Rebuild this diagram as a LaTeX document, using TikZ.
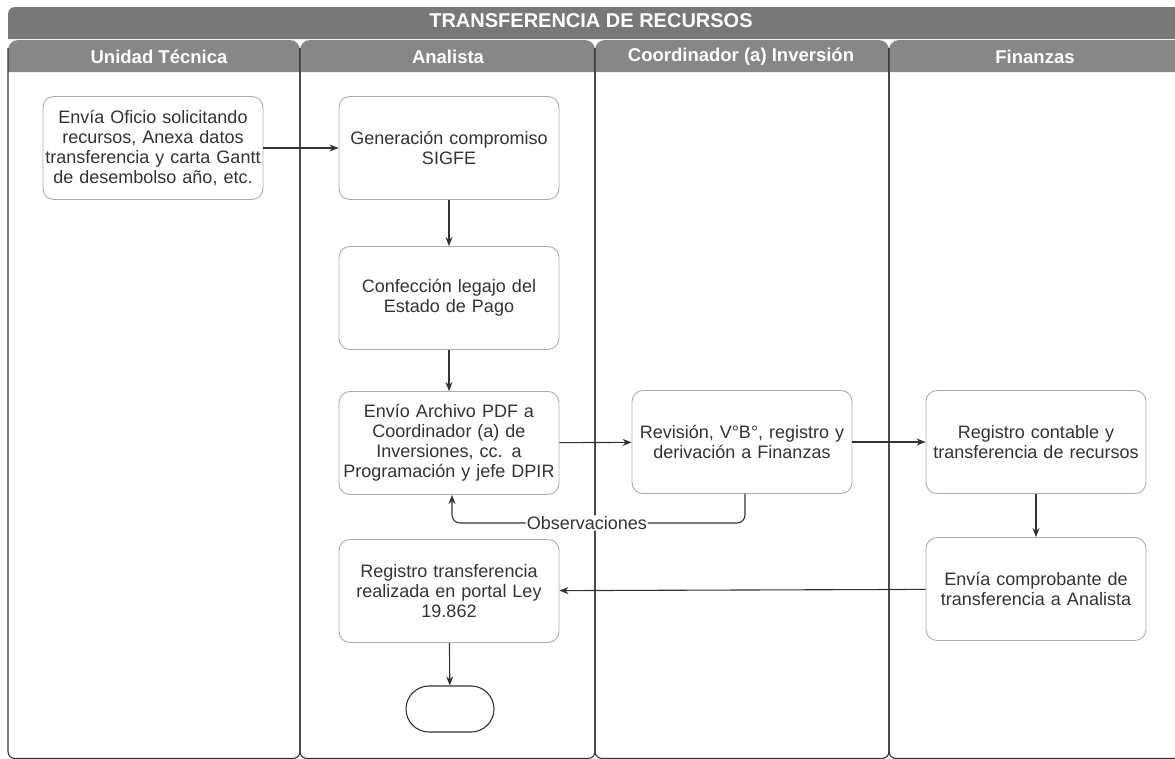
\documentclass[tikz,border=0pt]{standalone}
\usepackage{fontspec}
\setmainfont{Liberation Sans}
\usetikzlibrary{arrows.meta,shapes.misc}

\definecolor{barA}{gray}{0.47}
\definecolor{barB}{gray}{0.53}
\definecolor{ink}{gray}{0.2}
\definecolor{boxline}{gray}{0.68}

\tikzset{
  stepbox/.style={draw=boxline, line width=0.9pt, rounded corners=11pt, fill=white,
    minimum width=220pt, minimum height=103pt, text width=216pt, align=center,
    text=ink, font=\fontsize{18}{20}\selectfont, inner sep=2pt},
  endbox/.style={draw=ink, line width=1.1pt, rounded rectangle, minimum width=88pt,
    minimum height=46pt, inner sep=0pt},
  flow/.style={draw=ink, line width=1.1pt, -{Stealth[length=9pt,width=7pt]}},
  lanehead/.style={text=white, font=\bfseries\fontsize{18.5}{20}\selectfont},
  laneedge/.style={draw=ink, line width=1.1pt},
  lbl/.style={fill=white, text=ink, inner sep=1pt, font=\fontsize{18}{20}\selectfont}
}

\begin{document}
\begin{tikzpicture}[x=1pt,y=-1pt]
\useasboundingbox (0,0) rectangle (1175,758);
\fill[white] (0,0) rectangle (1175,758);

% title bar
\fill[barA] (8,39) {[rounded corners=7pt] -- (8,7) -- (1190,7)} -- (1190,39) -- cycle;
\node[lanehead, font=\bfseries\fontsize{20}{22}\selectfont] (title) at (591,21) {TRANSFERENCIA DE RECURSOS};

% swim lanes: header strip with rounded top corners, then the lane outline
\foreach \xa/\xb in {8/300, 300/595, 595/889, 889/1190}{
  \fill[barB] (\xa,72) {[rounded corners=10pt] -- (\xa,40) -- (\xb,40)} -- (\xb,72) -- cycle;
  \draw[laneedge, rounded corners=7pt] (\xa,48) -- (\xa,758.5) -- (\xb,758.5) -- (\xb,48);
}
\node[lanehead] (hUT) at (159,57) {Unidad Técnica};
\node[lanehead] (hAN) at (448,57) {Analista};
\node[lanehead] (hCO) at (741,57) {Coordinador (a) Inversión};
\node[lanehead] (hFI) at (1035,57) {Finanzas};

% process steps
\node[stepbox] (oficio) at (153,148) {Envía Oficio solicitando\\recursos, Anexa datos\\transferencia y carta Gantt\\de desembolso año, etc.};
\node[stepbox] (sigfe) at (449,148) {Generación compromiso\\SIGFE};
\node[stepbox] (legajo) at (449,298) {Confección legajo del\\Estado de Pago};
\node[stepbox] (pdf) at (449,443) {Envío Archivo PDF a\\Coordinador (a) de\\Inversiones, cc. a\\Programación y jefe DPIR};
\node[stepbox] (revision) at (742,442) {Revisión, V°B°, registro y\\derivación a Finanzas};
\node[stepbox] (contable) at (1036,442) {Registro contable y\\transferencia de recursos};
\node[stepbox] (comprobante) at (1036,589) {Envía comprobante de\\transferencia a Analista};
\node[stepbox] (portal) at (449,591) {Registro transferencia\\realizada en portal Ley\\19.862};
\node[endbox] (fin) at (450,709) {};

% connectors
\draw[flow] (oficio) -- (sigfe);
\draw[flow] (sigfe) -- (legajo);
\draw[flow] (legajo) -- (pdf);
\draw[flow] (pdf) -- (revision);
\draw[flow] (revision) -- (contable);
\draw[flow] (contable) -- (comprobante);
\draw[flow] (comprobante) -- (portal);
\draw[flow] (portal) -- (fin);
\coordinate (obsR) at ([xshift=3pt]revision.south);
\coordinate (obsL) at ([xshift=3pt]pdf.south);
\draw[flow, rounded corners=8pt] (obsR) -- (obsR |- 0,523) -- (obsL |- 0,523)
  node[lbl, pos=0.54] (obs) {Observaciones} -- (obsL);
\end{tikzpicture}
\end{document}
